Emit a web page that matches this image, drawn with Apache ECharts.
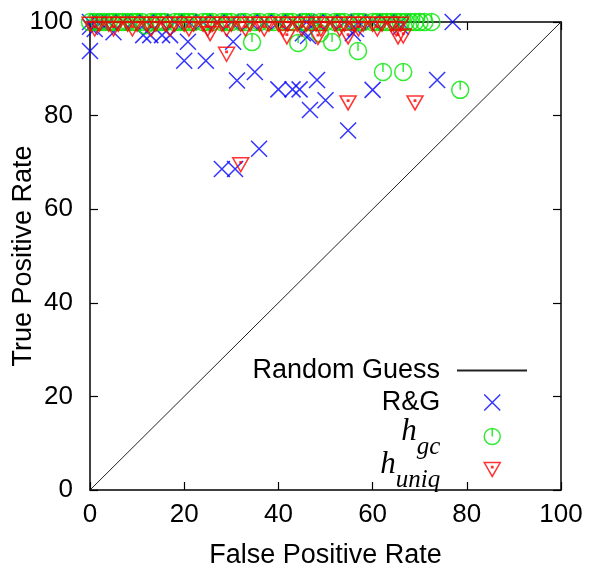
<!DOCTYPE html>
<html><head><meta charset="utf-8">
<script src="https://cdn.jsdelivr.net/npm/echarts@6/dist/echarts.min.js"></script>
<style>html,body{margin:0;padding:0;background:#fff}#c{width:589px;height:571px}</style>
</head><body><div id="c"></div>
<script>
const seriesNames = ['Random Guess', 'R&G', 'h_gc', 'h_uniq'];
const axisMin = 0, axisMax = 100, axisStep = 20;
const xAxisTitle = 'False Positive Rate';
const yAxisTitle = 'True Positive Rate';

const diagonal = [[0, 0], [100, 100]];

const rgPoints = [
  [0,100],[2,100],[4,100],[7,100],[9,100],[12,100],[15,100],[18,100],[21,100],[24,100],[27,100],[30,100],
  [34,100],[37,100],[40,100],[43,100],[46,100],[48,100],[51,100],[54,100],[57,100],[60,100],[63,100],[66,100],[77,100],
  [0,99],[1,98.5],[5,97.8],[11.3,97.2],[12.8,97.2],[15.3,97.2],[17,97.2],[20.8,95.8],[30.4,95.8],
  [45.2,97.6],[46.3,97],[55.8,97.6],[56.5,98.5],[66,99],
  [0,93.8],[20,91.7],[24.6,91.7],[31.2,87.5],[35,89.3],[40,85.6],[43,85.6],[44.5,85.6],[48.2,87.6],
  [46.7,81.2],[50,83.3],[60,85.5],[73.7,87.6],[54.8,76.8],[28,68.6],[30.8,68.6],[35.9,72.9]
];

const hgcPoints = [
  [0,100],[1,100],[2,100],[3,100],[4,100],[5,100],[6,100],[7,100],[8,100],[9,100],[10,100],[11,100],
  [13,100],[14,100],[15,100],[16,100],[18,100],[19,100],[20,100],[21,100],[22,100],[24,100],[25,100],
  [26,100],[28,100],[29,100],[30,100],[32,100],[33,100],[35,100],[36,100],[38,100],[39,100],[41,100],
  [42,100],[43,100],[45,100],[46,100],[47,100],[49,100],[50,100],[52,100],[53,100],[54,100],[56,100],
  [57,100],[58,100],[60,100],[61,100],[62,100],[63,100],[64,100],[65,100],[66,100],[67,100],[68,100],
  [69,100],[70,100],[71,100],[72.5,100],
  [11.7,99.3],[48.8,97.6],[34.4,95.7],[44.2,95.5],[51.4,95.7],[56.9,93.8],[62.2,89.3],[66.5,89.3],[78.6,85.5]
];

const huniqPoints = [
  [0,100],[2,100],[4,100],[6,100],[8,100],[10,100],[12,100],[14,100],[16,100],[18,100],[20,100],[22,100],
  [24,100],[26,100],[28,100],[30,100],[32,100],[34,100],[36,100],[38,100],[40,100],[42,100],[44,100],
  [46,100],[48,100],[50,100],[52,100],[54,100],[56,100],[58,100],[60,100],[62,100],[64,100],[66,100],
  [1,99],[5,99],[9,99],[13,99],[17,99],[21,99],[25,99],[29,99],[33,99],[37,99],[41,99],[45,99],[49,99],
  [53,99],[57,99],[61,99],[65,99],
  [25.5,98],[29,93.6],[41.8,97.3],[48.4,97.2],[54.8,97.3],[65.4,97.3],[66.5,97.5],
  [32,70],[54.8,83.2],[69,83.2]
];

const crossPath = 'path://M0,0L10,10M10,0L0,10';
const circlePath = 'path://M10,5A5,5,0,1,1,0,5A5,5,0,1,1,10,5ZM5,5L5,0';
const triPath = 'path://M0,0L10,0L5,8.66ZM4.6,2.5L5.4,2.5L5.4,3.3L4.6,3.3Z';

const sans = 'Liberation Sans, Arial, sans-serif';
const serif = 'Liberation Serif, Times New Roman, serif';

function axisBase(pos, showLabel) {
  return {
    type: 'value', min: axisMin, max: axisMax, interval: axisStep, position: pos,
    axisLine: { show: true, onZero: false, lineStyle: { color: '#000', width: 1.5 } },
    axisTick: { show: true, inside: true, length: 8, lineStyle: { color: '#000', width: 1.2 } },
    axisLabel: { show: showLabel, fontSize: 26, color: '#000', fontFamily: sans, margin: 12 },
    splitLine: { show: false }
  };
}

const xBottom = Object.assign(axisBase('bottom', true), {
  name: xAxisTitle, nameLocation: 'middle', nameGap: 52, nameMoveOverlap: false,
  nameTextStyle: { fontSize: 27, color: '#000', fontFamily: sans }
});
const xTop = axisBase('top', false);
const yLeft = Object.assign(axisBase('left', true), {
  name: yAxisTitle, nameLocation: 'middle', nameGap: 53, nameMoveOverlap: false,
  nameTextStyle: { fontSize: 27, color: '#000', fontFamily: sans }
});
yLeft.axisLabel.margin = 17;
const yRight = axisBase('right', false);

const lineLegendText = { fontSize: 27, color: '#000', fontFamily: sans, padding: [0, 12, 0, 0] };
const legendText = { fontSize: 27, color: '#000', fontFamily: sans, padding: [0, 39, 0, 0] };
const richText = {
  fontSize: 27, color: '#000', padding: [0, 39, 0, 0],
  rich: {
    h: { fontSize: 31, fontFamily: serif, fontStyle: 'italic', color: '#000', padding: [0, 0, 10, 0] },
    s: { fontSize: 25, fontFamily: serif, fontStyle: 'italic', color: '#000', padding: [22, 0, 0, 0] }
  }
};
function mkLegend(name, top, right, w, textStyle, fmt, itemStyle) {
  const l = {
    data: [name], orient: 'vertical', align: 'right', right: right, top: top, padding: 0,
    itemWidth: w, itemHeight: 16, selectedMode: false,
    textStyle: textStyle, itemStyle: itemStyle || { borderWidth: 1.5 }
  };
  if (fmt) l.formatter = fmt;
  return l;
}

const chart = echarts.init(document.getElementById('c'), null, { renderer: 'canvas' });
chart.setOption({
  animation: false,
  backgroundColor: '#fff',
  grid: { left: 90, right: 28, top: 22, bottom: 81, containLabel: false, outerBoundsMode: 'none' },
  xAxis: [xBottom, xTop],
  yAxis: [yLeft, yRight],
  legend: [
    mkLegend(seriesNames[0], 357, 61, 70, lineLegendText, null, { color: 'rgba(0,0,0,0)', borderWidth: 0, opacity: 0 }),
    mkLegend(seriesNames[1], 389, 88, 16, legendText),
    mkLegend(seriesNames[2], 416, 88, 16, richText, function () { return '{h|h}{s|gc}'; }),
    mkLegend(seriesNames[3], 449, 88, 16, richText, function () { return '{h|h}{s|uniq}'; })
  ],
  series: [
    { name: seriesNames[0], type: 'line', data: diagonal, symbol: 'none', silent: true,
      itemStyle: { color: '#222' }, lineStyle: { color: '#222', width: 1 } },
    { name: seriesNames[1], type: 'scatter', data: rgPoints, symbol: crossPath, symbolSize: 16,
      itemStyle: { color: 'rgba(0,0,0,0)', borderColor: '#0000ff', borderWidth: 1.5 } },
    { name: seriesNames[2], type: 'scatter', data: hgcPoints, symbol: circlePath, symbolSize: 17,
      itemStyle: { color: 'rgba(0,0,0,0)', borderColor: '#00e600', borderWidth: 1.5 } },
    { name: seriesNames[3], type: 'scatter', data: huniqPoints, symbol: triPath, symbolSize: [16, 14],
      symbolOffset: [0, 2.3],
      itemStyle: { color: 'rgba(0,0,0,0)', borderColor: '#ff0000', borderWidth: 1.5 } }
  ]
});
</script>
</body></html>
